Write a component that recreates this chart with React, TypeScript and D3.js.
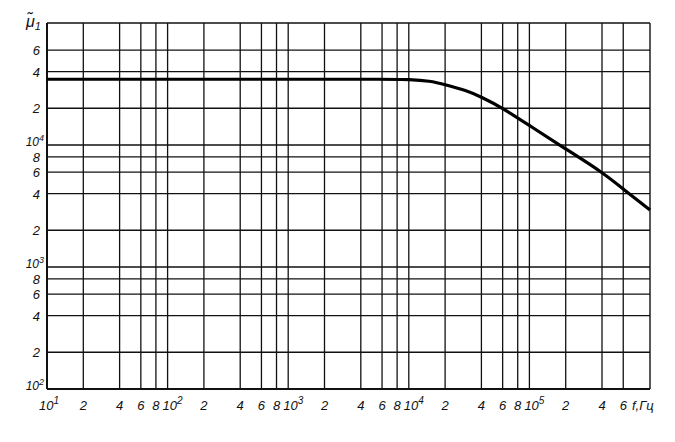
import React from "react";
import * as d3 from "d3";

const freqs = [10, 100, 1000, 7000, 10000, 15000, 20000, 30000, 40000, 60000, 100000, 200000, 400000, 600000, 1000000];
const mu = [34600, 34600, 34600, 34600, 34500, 33500, 31300, 27970, 24740, 20110, 14450, 9270, 6010, 4360, 2930];

const xDecades = [1, 2, 3, 4, 5];
const xMantissas = [2, 4, 6, 8];
const xLastMantissas = [2, 4, 6];
const yDecades = [2, 3, 4];
const yMantissas = [2, 4, 6, 8];
const yLastMantissas = [2, 4, 6];
const xUnitLabel = "f,Гц";
const yTitle = "μ̃";
const yTitleSub = "1";

const W = 675;
const H = 442;
const L = 47, R = 650, T = 23, B = 389;

export default function App() {
  const x = d3.scaleLog().domain([10, 1e6]).range([L, R]);
  const y = d3.scaleLog().domain([100, 1e5]).range([B, T]);

  const xLines: { v: number; label: string; pow?: number }[] = [];
  xDecades.forEach((d) => {
    xLines.push({ v: Math.pow(10, d), label: "10", pow: d });
    const ms = d === 5 ? xLastMantissas : xMantissas;
    ms.forEach((m) => xLines.push({ v: m * Math.pow(10, d), label: String(m) }));
  });
  const yLines: { v: number; label: string; pow?: number }[] = [];
  yDecades.forEach((d) => {
    yLines.push({ v: Math.pow(10, d), label: "10", pow: d });
    const ms = d === 4 ? yLastMantissas : yMantissas;
    ms.forEach((m) => yLines.push({ v: m * Math.pow(10, d), label: String(m) }));
  });

  const line = d3
    .line<number>()
    .x((_, i) => x(freqs[i]))
    .y((v) => y(v))
    .curve(d3.curveBasis);

  const font = "'Liberation Sans', Arial, sans-serif";

  return (
    <svg
      width={W}
      height={H}
      style={{ position: "absolute", left: 0, top: 0, background: "#fff" }}
      fontFamily={font}
      fontStyle="italic"
    >
      <rect x={0} y={0} width={W} height={H} fill="#fff" />
      {xLines.map((g, i) => (
        <line key={"vx" + i} x1={x(g.v)} x2={x(g.v)} y1={T} y2={B} stroke="#111" strokeWidth={1.3} />
      ))}
      {yLines.map((g, i) => (
        <line key={"hy" + i} x1={L} x2={R} y1={y(g.v)} y2={y(g.v)} stroke="#111" strokeWidth={1.3} />
      ))}
      <line x1={L} x2={L} y1={T} y2={B} stroke="#111" strokeWidth={2} />
      <line x1={R} x2={R} y1={T} y2={B} stroke="#111" strokeWidth={1.4} />
      <line x1={L} x2={R} y1={T} y2={T} stroke="#111" strokeWidth={1.6} />
      <line x1={L} x2={R} y1={B} y2={B} stroke="#111" strokeWidth={2.2} />
      <path d={line(mu) || ""} fill="none" stroke="#000" strokeWidth={3.2} strokeLinejoin="round" />
      {xLines.map((g, i) =>
        g.pow !== undefined ? (
          <text key={"xl" + i} x={x(g.v) - (g.pow === 1 ? 8 : 5)} y={410} textAnchor="start" fontSize={13} fill="#111">
            {g.label}
            <tspan dy={-6} fontSize={10}>{g.pow}</tspan>
          </text>
        ) : (
          <text key={"xl" + i} x={x(g.v)} y={410} textAnchor="middle" fontSize={13} fill="#111">
            {g.label}
          </text>
        )
      )}
      <text x={632} y={410} textAnchor="start" fontSize={13} fill="#111">
        {xUnitLabel}
      </text>
      {yLines.map((g, i) =>
        g.pow !== undefined ? (
          <text key={"yl" + i} x={44} y={y(g.v) + 1} textAnchor="end" fontSize={12} fill="#111">
            {g.label}
            <tspan dy={-5} fontSize={9}>{g.pow}</tspan>
          </text>
        ) : (
          <text key={"yl" + i} x={40} y={y(g.v) + 5} textAnchor="end" fontSize={13} fill="#111">
            {g.label}
          </text>
        )
      )}
      <text x={26} y={27} fontSize={16} fill="#111">
        {yTitle}
        <tspan dy={3} fontSize={11}>{yTitleSub}</tspan>
      </text>
    </svg>
  );
}
